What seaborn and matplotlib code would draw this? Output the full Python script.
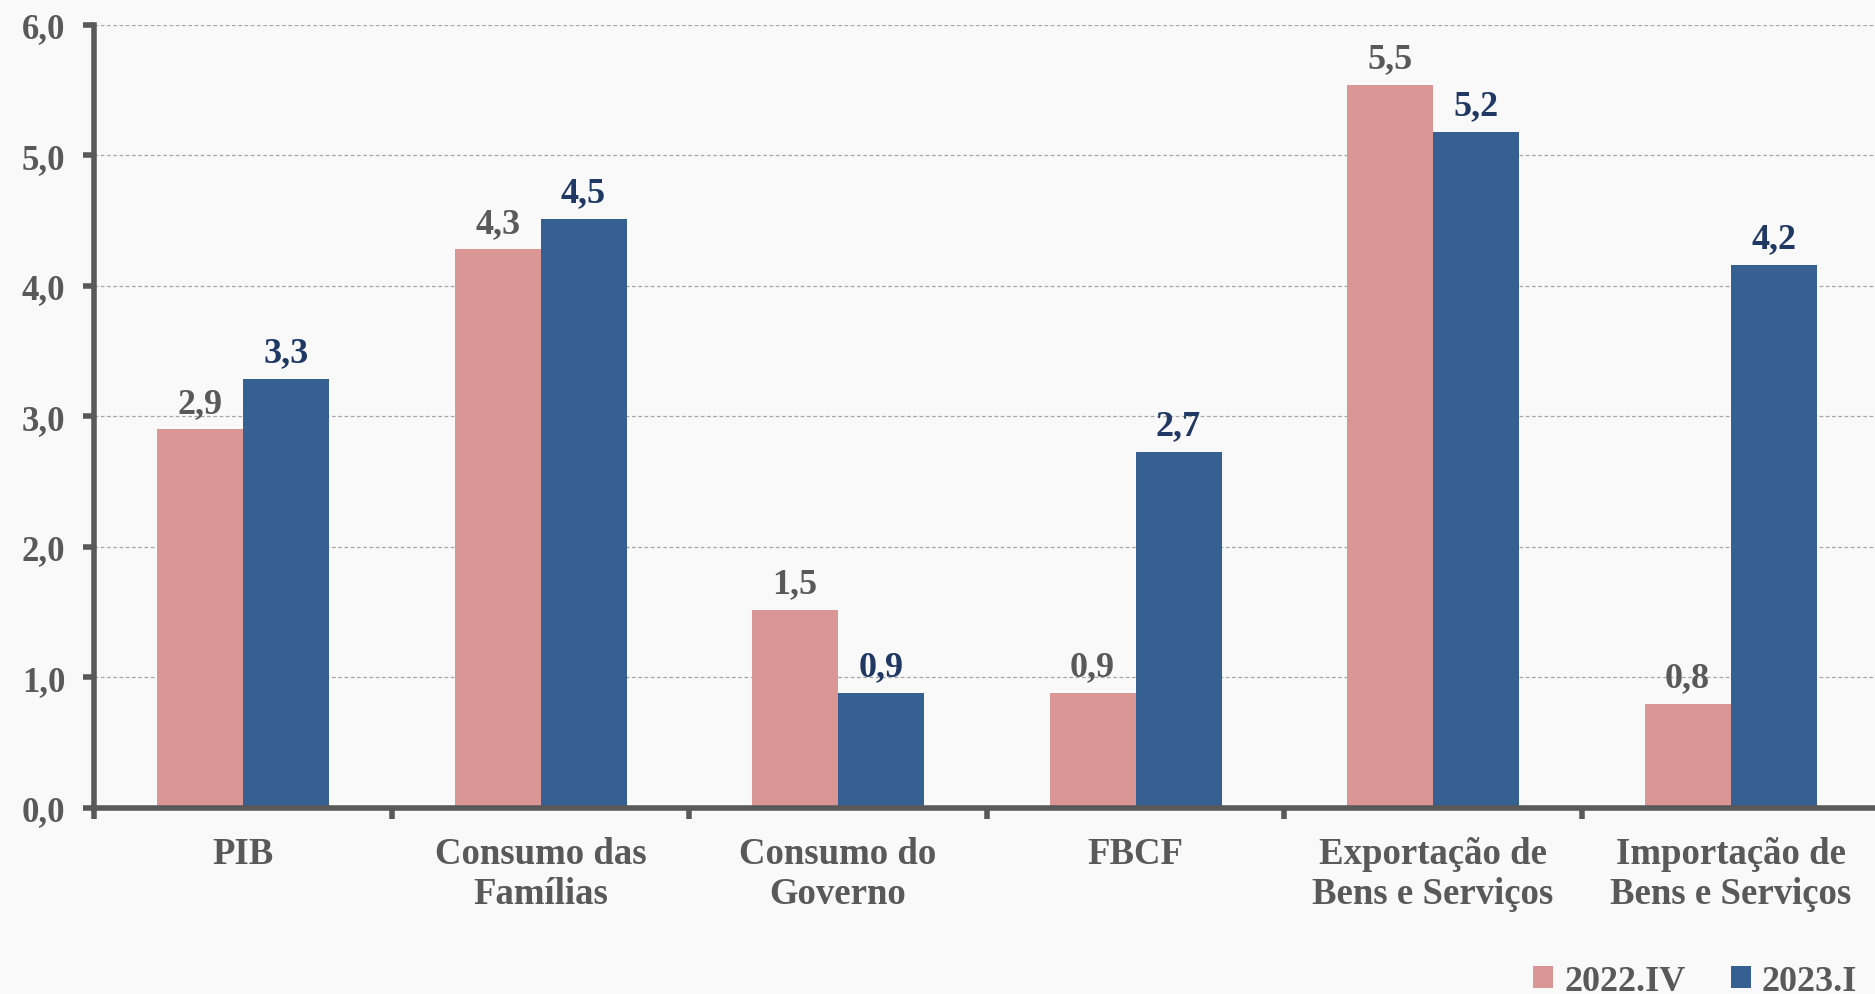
import pandas as pd
import matplotlib
matplotlib.use("Agg")
import matplotlib.pyplot as plt
import seaborn as sns

# Dados: variação (%) por componente
componentes = ["PIB", "Consumo das\nFamílias", "Consumo do\nGoverno", "FBCF",
               "Exportação de\nBens e Serviços", "Importação de\nBens e Serviços"]
v_2022_iv = [2.90, 4.28, 1.52, 0.88, 5.54, 0.80]
v_2023_i = [3.29, 4.51, 0.88, 2.73, 5.18, 4.16]
periodos = ["2022.IV", "2023.I"]
y_ticks = [0, 1, 2, 3, 4, 5, 6]
y_labels = ["0,0", "1,0", "2,0", "3,0", "4,0", "5,0", "6,0"]

df = pd.DataFrame({
    "Componente": componentes * 2,
    "Periodo": [periodos[0]] * len(componentes) + [periodos[1]] * len(componentes),
    "Valor": v_2022_iv + v_2023_i,
})

cores = {"2022.IV": "#d99694", "2023.I": "#366092"}
cores_txt = ["#595959", "#1f3864"]
cinza = "#595959"

sns.set_style("white")
plt.rcParams["font.family"] = ["Liberation Serif", "DejaVu Serif"]
plt.rcParams["font.weight"] = "bold"

fig = plt.figure(figsize=(18.75, 9.95), dpi=100, facecolor="#f9f9f9")
ax = fig.add_axes([0.0503, 0.187, 0.952, 0.787])
ax.set_facecolor("#f9f9f9")

sns.barplot(data=df, x="Componente", y="Valor", hue="Periodo", palette=cores,
            width=0.578, gap=0, linewidth=0, saturation=1, ax=ax)

for cont, c in zip(ax.containers, cores_txt):
    ax.bar_label(cont, labels=[f"{b.get_height():.1f}".replace(".", ",") for b in cont],
                 padding=7, color=c, fontsize=26, fontweight="bold")

ax.set_ylim(0, 6)
ax.set_xlim(-0.5, len(componentes) - 0.5)
ax.set_yticks(y_ticks)
ax.set_yticklabels(y_labels)
ax.set_xlabel("")
ax.set_ylabel("")

ax.yaxis.grid(True, linestyle=(0, (3, 2)), color="#a6a6a6", linewidth=0.9)
ax.set_axisbelow(True)

for s in ["top", "right"]:
    ax.spines[s].set_visible(False)
for s in ["left", "bottom"]:
    ax.spines[s].set_color(cinza)
    ax.spines[s].set_linewidth(4)

ax.tick_params(axis="y", direction="out", length=8, width=4, color=cinza,
               labelsize=25, labelcolor=cinza, pad=13, left=True)
ax.set_xticks([i - 0.5 for i in range(len(componentes) + 1)], minor=True)
ax.tick_params(axis="x", which="minor", direction="out", length=8, width=4,
               color=cinza, bottom=True)
ax.tick_params(axis="x", which="major", length=0, labelsize=26.5,
               labelcolor=cinza, pad=20)
for t in ax.get_xticklabels() + ax.get_yticklabels():
    t.set_fontweight("bold")

ax.legend_.remove()
h, l = ax.get_legend_handles_labels()
fig.legend(h, l, loc="center right", bbox_to_anchor=(1.0, 0.013), ncol=2,
           frameon=False, handlelength=0.56, handleheight=0.56,
           handletextpad=0.3, columnspacing=1.25, borderpad=0, labelcolor=cinza,
           prop={"weight": "bold", "size": 26})

fig.savefig("out.png", dpi=100, facecolor=fig.get_facecolor())
